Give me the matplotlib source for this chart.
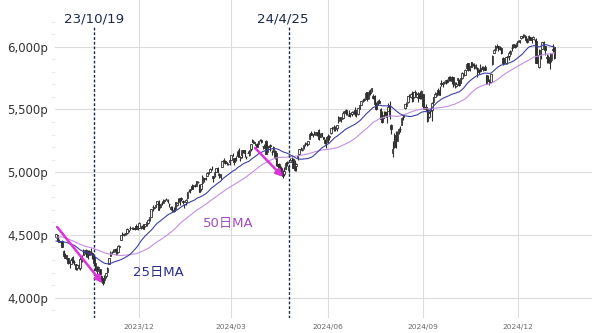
import numpy as np
import pandas as pd
import matplotlib
matplotlib.use("Agg")
import matplotlib.pyplot as plt
from matplotlib import rcParams

rcParams.update({
    "font.family": ["DejaVu Sans", "Noto Sans CJK JP"],
    "axes.spines.top": False,
    "axes.spines.right": False,
    "axes.spines.left": False,
    "axes.spines.bottom": False,
})

# NYSE closed days inside the range (dates come from a custom business-day calendar)
HOLIDAYS = ["2023-07-04", "2023-09-04", "2023-11-23", "2023-12-25",
            "2024-01-01", "2024-01-15", "2024-02-19", "2024-03-29",
            "2024-05-27", "2024-06-19", "2024-07-04", "2024-09-02",
            "2024-11-28", "2024-12-25", "2025-01-01", "2025-01-09"]
FIRST_DAY = "2023-06-30"
LAST_DAY = "2025-01-07"

# closes before the plotted window, only used to seed the moving averages
WARMUP_CLOSE = [
    4450,
    4456, 4447, 4412, 4399, 4410, 4439, 4472, 4510, 4505, 4523, 4555, 4566, 4535, 4536, 4555, 4567, 4567, 4537, 4582, 4589,
    4577, 4513, 4502, 4478, 4518, 4499, 4468, 4469, 4464, 4490, 4438, 4404, 4370, 4370, 4400, 4388, 4436, 4376, 4406, 4433, 4498, 4515, 4508,
    4516, 4497, 4465, 4451, 4457, 4487, 4462, 4467,
]

# daily candles, one row per month (2023-09-14 .. 2025-01-07)
OPEN = [
    4487, 4497, 4445, 4445, 4453, 4375, 4341, 4310, 4313, 4283, 4270, 4328,
    4284, 4270, 4234, 4259, 4234, 4289, 4339, 4367, 4381, 4360, 4342, 4345, 4357, 4321, 4274, 4211, 4236, 4232, 4176, 4153, 4140, 4172,
    4201, 4268, 4335, 4365, 4366, 4384, 4391, 4364, 4406, 4459, 4505, 4497, 4510, 4512, 4539, 4554, 4555, 4555, 4546, 4572, 4554,
    4559, 4569, 4557, 4587, 4568, 4576, 4593, 4618, 4646, 4721, 4715, 4725, 4744, 4764, 4725, 4754, 4758, 4773, 4787, 4782,
    4745, 4725, 4698, 4690, 4704, 4742, 4759, 4793, 4792, 4772, 4740, 4761, 4796, 4853, 4856, 4888, 4886, 4888, 4893, 4925, 4900,
    4862, 4917, 4951, 4951, 4973, 4996, 5005, 5027, 4967, 4976, 5004, 5032, 4989, 4964, 5039, 5101, 5093, 5074, 5068, 5085,
    5098, 5131, 5110, 5109, 5132, 5173, 5111, 5134, 5174, 5176, 5124, 5154, 5140, 5181, 5253, 5243, 5219, 5228, 5226, 5253,
    5258, 5205, 5194, 5245, 5159, 5212, 5218, 5160, 5172, 5172, 5149, 5065, 5069, 5031, 5005, 4988, 5028, 5084, 5020, 5084, 5114, 5103,
    5030, 5050, 5123, 5142, 5188, 5173, 5189, 5226, 5234, 5222, 5264, 5310, 5303, 5305, 5298, 5320, 5340, 5282, 5316, 5278, 5260, 5244,
    5285, 5278, 5314, 5357, 5344, 5341, 5354, 5409, 5441, 5424, 5431, 5476, 5499, 5466, 5459, 5461, 5461, 5474, 5498,
    5471, 5461, 5507, 5537, 5572, 5585, 5591, 5635, 5590, 5638, 5644, 5610, 5608, 5543, 5544, 5566, 5505, 5428, 5434, 5477, 5478, 5485,
    5537, 5376, 5151, 5206, 5294, 5252, 5312, 5348, 5376, 5442, 5509, 5531, 5557, 5603, 5603, 5637, 5602, 5639, 5602, 5629, 5607, 5612,
    5624, 5507, 5520, 5507, 5442, 5490, 5496, 5558, 5603, 5615, 5655, 5641, 5703, 5709, 5711, 5727, 5733, 5762, 5755, 5727,
    5757, 5698, 5690, 5738, 5737, 5714, 5752, 5778, 5775, 5829, 5866, 5817, 5876, 5859, 5858, 5833, 5834, 5817, 5826, 5830, 5814, 5835, 5775,
    5723, 5724, 5722, 5862, 5947, 5977, 6008, 6004, 5985, 5989, 5912, 5875, 5871, 5923, 5924, 5944, 5993, 6000, 6015, 6004,
    6040, 6042, 6069, 6089, 6082, 6084, 6057, 6060, 6074, 6068, 6063, 6053, 6048, 5912, 5842, 5941, 5985, 6024, 6006, 5921, 5920,
    5903, 5892, 5982, 5994,
]
HIGH = [
    4511, 4498, 4466, 4452, 4462, 4376, 4357, 4338, 4313, 4292, 4317, 4334,
    4300, 4270, 4268, 4267, 4324, 4341, 4385, 4378, 4385, 4377, 4383, 4394, 4367, 4340, 4276, 4256, 4255, 4232, 4182, 4157, 4178, 4194,
    4245, 4319, 4374, 4372, 4386, 4391, 4393, 4418, 4421, 4503, 4521, 4512, 4521, 4557, 4542, 4569, 4560, 4562, 4562, 4587, 4569,
    4599, 4575, 4579, 4590, 4591, 4610, 4623, 4643, 4709, 4739, 4726, 4749, 4769, 4779, 4749, 4773, 4785, 4785, 4793, 4789,
    4755, 4730, 4727, 4722, 4765, 4765, 4791, 4798, 4802, 4782, 4744, 4784, 4843, 4868, 4866, 4903, 4898, 4907, 4929, 4932, 4907,
    4907, 4975, 4954, 4963, 4999, 5001, 5031, 5048, 4971, 5003, 5033, 5039, 4993, 4983, 5088, 5111, 5097, 5080, 5077, 5105,
    5140, 5149, 5114, 5127, 5165, 5189, 5125, 5179, 5180, 5179, 5128, 5170, 5180, 5225, 5261, 5246, 5229, 5236, 5249, 5265,
    5264, 5208, 5228, 5256, 5222, 5219, 5225, 5178, 5212, 5175, 5150, 5069, 5077, 5046, 5020, 5038, 5076, 5089, 5057, 5115, 5124, 5110,
    5096, 5074, 5139, 5181, 5201, 5191, 5215, 5240, 5238, 5251, 5311, 5325, 5306, 5325, 5324, 5323, 5342, 5311, 5316, 5283, 5265, 5280,
    5302, 5298, 5355, 5362, 5376, 5366, 5375, 5448, 5442, 5432, 5489, 5490, 5506, 5479, 5493, 5472, 5484, 5490, 5523,
    5480, 5510, 5539, 5570, 5583, 5590, 5635, 5642, 5655, 5666, 5670, 5622, 5615, 5557, 5572, 5586, 5509, 5491, 5488, 5487, 5486, 5551,
    5567, 5383, 5250, 5312, 5330, 5326, 5351, 5371, 5436, 5464, 5546, 5563, 5608, 5620, 5633, 5643, 5641, 5651, 5631, 5636, 5646, 5651,
    5626, 5552, 5546, 5522, 5484, 5497, 5560, 5600, 5636, 5637, 5671, 5690, 5733, 5716, 5725, 5736, 5742, 5767, 5765, 5765,
    5757, 5720, 5718, 5751, 5739, 5757, 5797, 5796, 5823, 5871, 5871, 5843, 5879, 5870, 5866, 5863, 5835, 5821, 5862, 5843, 5848, 5851, 5776,
    5772, 5741, 5784, 5933, 5983, 6012, 6018, 6008, 6009, 5994, 5915, 5902, 5921, 5924, 5962, 5973, 6020, 6025, 6021, 6045,
    6053, 6052, 6089, 6100, 6099, 6088, 6066, 6092, 6080, 6079, 6085, 6058, 6070, 5935, 5982, 5978, 6040, 6049, 6006, 5941, 5930,
    5949, 5950, 6021, 6001,
]
LOW = [
    4479, 4447, 4442, 4417, 4402, 4329, 4316, 4302, 4265, 4238, 4265, 4274,
    4260, 4217, 4220, 4225, 4220, 4284, 4339, 4345, 4325, 4311, 4342, 4337, 4310, 4269, 4223, 4190, 4220, 4182, 4127, 4103, 4132, 4153,
    4197, 4268, 4335, 4348, 4360, 4360, 4343, 4359, 4394, 4459, 4496, 4488, 4500, 4510, 4525, 4537, 4552, 4546, 4540, 4547, 4537,
    4554, 4546, 4552, 4546, 4566, 4574, 4590, 4608, 4643, 4690, 4705, 4720, 4744, 4697, 4718, 4737, 4758, 4768, 4780, 4751,
    4723, 4700, 4687, 4683, 4699, 4731, 4756, 4740, 4768, 4743, 4714, 4741, 4785, 4844, 4832, 4867, 4870, 4881, 4888, 4917, 4845,
    4853, 4907, 4919, 4939, 4970, 4984, 4998, 5016, 4920, 4963, 5002, 4994, 4955, 4946, 5038, 5081, 5068, 5057, 5058, 5061,
    5094, 5127, 5057, 5092, 5131, 5118, 5092, 5115, 5151, 5124, 5103, 5149, 5131, 5172, 5240, 5230, 5216, 5203, 5213, 5245,
    5230, 5185, 5194, 5146, 5158, 5198, 5168, 5139, 5157, 5108, 5052, 5035, 5007, 4993, 4954, 4969, 5028, 5048, 4990, 5080, 5089, 5035,
    5013, 5012, 5101, 5142, 5181, 5171, 5185, 5208, 5211, 5214, 5263, 5297, 5284, 5298, 5297, 5286, 5257, 5278, 5281, 5262, 5222, 5191,
    5234, 5257, 5303, 5335, 5331, 5332, 5331, 5392, 5404, 5403, 5421, 5471, 5455, 5454, 5447, 5438, 5451, 5470, 5451,
    5438, 5459, 5507, 5535, 5563, 5566, 5587, 5571, 5583, 5614, 5640, 5584, 5522, 5498, 5533, 5550, 5426, 5391, 5430, 5445, 5391, 5485,
    5421, 5302, 5119, 5193, 5195, 5248, 5301, 5322, 5376, 5419, 5502, 5528, 5554, 5585, 5592, 5561, 5591, 5603, 5593, 5562, 5583, 5582,
    5505, 5503, 5486, 5402, 5434, 5441, 5406, 5535, 5601, 5605, 5614, 5615, 5686, 5675, 5704, 5699, 5714, 5725, 5727, 5703,
    5681, 5674, 5681, 5702, 5683, 5707, 5740, 5763, 5775, 5825, 5804, 5809, 5837, 5846, 5825, 5821, 5762, 5784, 5800, 5822, 5805, 5811, 5703,
    5723, 5696, 5722, 5857, 5947, 5976, 5986, 5963, 5970, 5943, 5854, 5866, 5865, 5860, 5895, 5940, 5964, 5993, 5991, 6004,
    6034, 6033, 6062, 6072, 6079, 6047, 6027, 6060, 6050, 6030, 6059, 6036, 5868, 5866, 5832, 5902, 5983, 6007, 5932, 5869, 5868,
    5824, 5876, 5960, 5899,
]
CLOSE = [
    4505, 4450, 4454, 4444, 4402, 4330, 4320, 4337, 4274, 4275, 4300, 4288,
    4288, 4229, 4263, 4258, 4308, 4336, 4358, 4377, 4349, 4328, 4373, 4373, 4315, 4278, 4224, 4217, 4248, 4186, 4137, 4117, 4167, 4194,
    4237, 4318, 4358, 4365, 4378, 4383, 4347, 4415, 4411, 4496, 4502, 4508, 4514, 4547, 4538, 4556, 4559, 4550, 4555, 4550, 4568,
    4595, 4569, 4567, 4549, 4585, 4604, 4622, 4644, 4707, 4720, 4719, 4741, 4768, 4698, 4746, 4755, 4775, 4781, 4783, 4770,
    4743, 4705, 4689, 4697, 4764, 4757, 4783, 4780, 4784, 4766, 4739, 4780, 4840, 4850, 4865, 4869, 4894, 4891, 4928, 4925, 4846,
    4906, 4959, 4943, 4954, 4996, 4998, 5027, 5022, 4953, 5001, 5030, 5006, 4976, 4982, 5087, 5089, 5070, 5078, 5069, 5096,
    5137, 5131, 5079, 5105, 5157, 5124, 5117, 5175, 5165, 5150, 5117, 5149, 5179, 5225, 5241, 5234, 5218, 5204, 5248, 5254,
    5243, 5205, 5211, 5147, 5204, 5202, 5210, 5161, 5199, 5123, 5061, 5051, 5022, 5011, 4967, 5010, 5070, 5072, 5048, 5100, 5116, 5036,
    5018, 5064, 5128, 5181, 5187, 5187, 5214, 5223, 5221, 5247, 5308, 5297, 5303, 5308, 5321, 5307, 5268, 5305, 5306, 5267, 5236, 5278,
    5283, 5291, 5354, 5352, 5347, 5361, 5375, 5421, 5434, 5431, 5473, 5487, 5473, 5464, 5448, 5469, 5478, 5483, 5460,
    5475, 5509, 5537, 5567, 5572, 5577, 5633, 5585, 5615, 5631, 5667, 5589, 5544, 5505, 5564, 5555, 5427, 5399, 5459, 5464, 5436, 5522,
    5446, 5347, 5186, 5240, 5199, 5319, 5344, 5344, 5434, 5455, 5543, 5554, 5608, 5597, 5621, 5570, 5635, 5616, 5625, 5592, 5592, 5648,
    5529, 5520, 5503, 5408, 5471, 5496, 5554, 5596, 5626, 5633, 5634, 5618, 5714, 5703, 5719, 5732, 5722, 5745, 5738, 5762,
    5709, 5710, 5699, 5751, 5696, 5751, 5792, 5780, 5815, 5859, 5815, 5843, 5841, 5865, 5853, 5851, 5797, 5809, 5808, 5823, 5832, 5813, 5705,
    5729, 5712, 5782, 5929, 5973, 5996, 6001, 5984, 5985, 5949, 5871, 5893, 5917, 5917, 5949, 5969, 5987, 6021, 5999, 6032,
    6047, 6050, 6087, 6075, 6090, 6053, 6034, 6084, 6051, 6051, 6074, 6050, 5872, 5867, 5931, 5974, 6040, 6037, 5971, 5907, 5882,
    5869, 5942, 5975, 5909,
]

MONTH_TICKS = ["2023-12-01", "2024-03-01", "2024-06-03", "2024-09-03", "2024-12-02"]
MONTH_LABELS = ["2023/12", "2024/03", "2024/06", "2024/09", "2024/12"]
EVENT_DAYS = ["2023-10-19", "2024-04-25"]
EVENT_LABELS = ["23/10/19", "24/4/25"]
Y_TICKS = [4000, 4500, 5000, 5500, 6000]

CANDLE = "#2e2e2e"
MA25_COLOR = "#3d41a3"
MA50_COLOR = "#c48ee2"
ARROW = "#dd33dd"
NAVY = "#1c2a4e"

# ---- data prep ----
days = pd.bdate_range(FIRST_DAY, LAST_DAY, freq="C", holidays=HOLIDAYS)
n_warm = len(WARMUP_CLOSE)
window = days[n_warm:]
assert len(window) == len(CLOSE) == len(OPEN) == len(HIGH) == len(LOW)

all_close = pd.Series(WARMUP_CLOSE + CLOSE, dtype=float)
ma25 = all_close.rolling(25).mean().to_numpy()[n_warm:]
ma50 = all_close.rolling(50).mean().to_numpy()[n_warm:]

o, h, l, c = (np.array(v, dtype=float) for v in (OPEN, HIGH, LOW, CLOSE))
x = np.arange(len(c))
pos = {d: i for i, d in enumerate(window)}

# ---- figure ----
fig = plt.figure(figsize=(6.0, 3.33), dpi=100)
ax = fig.add_axes([55 / 600, 15 / 333, 537 / 600, 318 / 333])
ax.set_xlim(-0.7, 355)
ax.set_ylim(3838, 6372)

ax.set_yticks(Y_TICKS)
ax.set_yticklabels([f"{v:,}p" for v in Y_TICKS])
ax.set_yticks(np.arange(3900, 6201, 100), minor=True)
ax.tick_params(axis="y", which="major", length=0, pad=5, labelsize=8.5, labelcolor="#333333")
ax.tick_params(axis="y", which="minor", length=3, color="#ececec", width=0.8)

tick_idx = [pos[pd.Timestamp(d)] for d in MONTH_TICKS]
ax.set_xticks(tick_idx)
ax.set_xticklabels(MONTH_LABELS)
ax.tick_params(axis="x", length=0, pad=4, labelsize=5.3, labelcolor="#666666")

ax.grid(True, color="#dcdcdc", linewidth=0.8)
ax.set_axisbelow(True)

# moving averages
ax.plot(x, ma50, color=MA50_COLOR, lw=0.8, zorder=5)
ax.plot(x, ma25, color=MA25_COLOR, lw=0.8, zorder=5)

# candles: white body = up day, dark body = down day
up = c >= o
ax.vlines(x, l, h, color=CANDLE, lw=0.8, zorder=3)
ax.bar(x, np.abs(c - o), bottom=np.minimum(o, c), width=0.95,
       color=np.where(up, "#f2f2f2", CANDLE), edgecolor=CANDLE, linewidth=0.6, zorder=4)

# event markers
offsets = [0, -6]
for d, lab, dx in zip(EVENT_DAYS, EVENT_LABELS, offsets):
    i = pos[pd.Timestamp(d)]
    ax.axvline(i, ymin=0, ymax=1 - 27 / 318, color=NAVY, lw=1.0,
               linestyle=(0, (2, 1.4)), zorder=6)
    ax.annotate(lab, xy=(i, 1 - 19 / 318), xycoords=ax.get_xaxis_transform(),
                xytext=(dx, 0), textcoords="offset pixels",
                ha="center", va="center", fontsize=9.6, color=NAVY)

# drawdown arrows
for (x0, y0), (x1, y1) in [((0.7, 4563), (30.5, 4117)), ((131.8, 5193), (150.3, 4962))]:
    ax.annotate("", xy=(x1, y1), xytext=(x0, y0),
                arrowprops=dict(arrowstyle="-|>", color=ARROW, lw=1.8,
                                mutation_scale=10, shrinkA=0, shrinkB=0),
                zorder=7)

ax.text(67.5, 4203, "25日MA", color="#2b2d8c", fontsize=9.5, ha="center", va="center")
ax.text(114, 4595, "50日MA", color="#9d4fc0", fontsize=9.5, ha="center", va="center")

fig.savefig("out.png", dpi=100)
